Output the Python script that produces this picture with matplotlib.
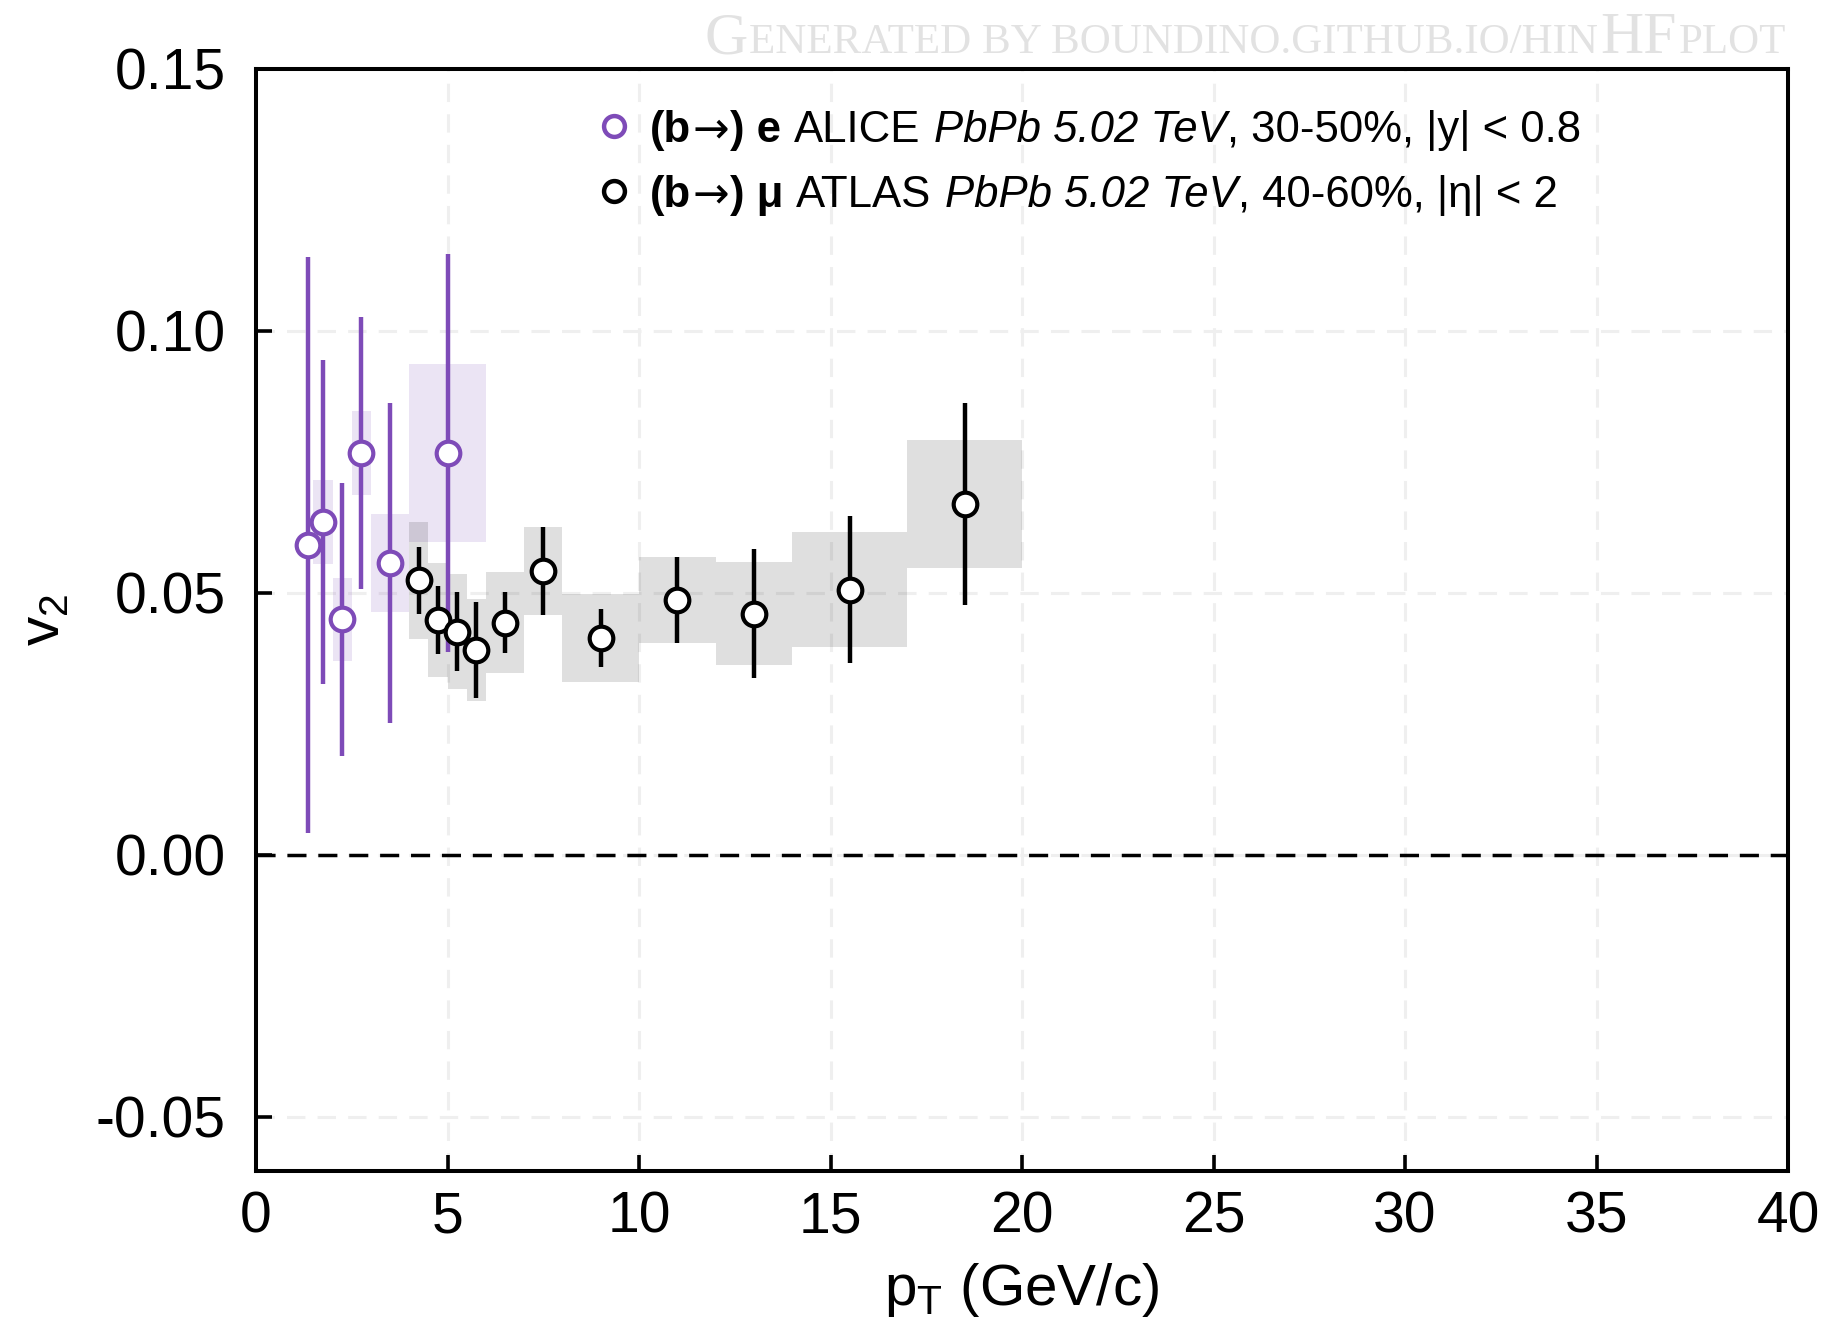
import matplotlib
matplotlib.use("Agg")
import matplotlib.pyplot as plt
from matplotlib.patches import Rectangle

plt.rcParams['font.family'] = ['Liberation Sans', 'DejaVu Sans']
plt.rcParams['mathtext.fontset'] = 'custom'
plt.rcParams['mathtext.rm'] = 'Liberation Sans'
plt.rcParams['mathtext.it'] = 'Liberation Sans:italic'
plt.rcParams['mathtext.bf'] = 'Liberation Sans:bold'
plt.rcParams['axes.unicode_minus'] = False

# ---------------- data ----------------
# ALICE (b->) e, PbPb 5.02 TeV, 30-50%
alice_pt = [1.37, 1.74, 2.24, 2.75, 3.49, 5.00]
alice_v2 = [0.0592, 0.0635, 0.0449, 0.0767, 0.0557, 0.0767]
alice_stat = [0.0550, 0.0310, 0.0260, 0.0260, 0.0306, 0.0380]
alice_syst = [0.0020, 0.0080, 0.0080, 0.0080, 0.0093, 0.0170]
alice_lo = [1.30, 1.50, 2.00, 2.50, 3.00, 4.00]
alice_hi = [1.45, 2.00, 2.50, 3.00, 4.00, 6.00]

# ATLAS (b->) mu, PbPb 5.02 TeV, 40-60%
atlas_pt = [4.25, 4.75, 5.25, 5.75, 6.5, 7.5, 9.0, 11.0, 13.0, 15.5, 18.5]
atlas_v2 = [0.0524, 0.0448, 0.0426, 0.0391, 0.0443, 0.0541, 0.0414, 0.0486, 0.0460, 0.0506, 0.0670]
atlas_stat = [0.0064, 0.0064, 0.0075, 0.0091, 0.0058, 0.0084, 0.0055, 0.0082, 0.0123, 0.0140, 0.0193]
atlas_syst = [0.0112, 0.0109, 0.0109, 0.0098, 0.0096, 0.0084, 0.0084, 0.0082, 0.0098, 0.0110, 0.0122]
atlas_lo = [4.0, 4.5, 5.0, 5.5, 6.0, 7.0, 8.0, 10.0, 12.0, 14.0, 17.0]
atlas_hi = [4.5, 5.0, 5.5, 6.0, 7.0, 8.0, 10.0, 12.0, 14.0, 17.0, 20.0]

xticks = [0, 5, 10, 15, 20, 25, 30, 35, 40]
xtick_labels = ['0', '5', '10', '15', '20', '25', '30', '35', '40']
yticks = [-0.05, 0.00, 0.05, 0.10, 0.15]
ytick_labels = ['-0.05', '0.00', '0.05', '0.10', '0.15']

# legend text pieces: (text, weight, style, font)
SANS = ['Liberation Sans', 'DejaVu Sans']
ARROW = ['DejaVu Sans']
legend_alice = [("(b", 'bold', 'normal', SANS), ("→", 'normal', 'normal', ARROW),
                (") e", 'bold', 'normal', SANS), (" ALICE ", 'normal', 'normal', SANS),
                ("PbPb 5.02 TeV", 'normal', 'italic', SANS),
                (", 30-50%, |y| < 0.8", 'normal', 'normal', SANS)]
legend_atlas = [("(b", 'bold', 'normal', SANS), ("→", 'normal', 'normal', ARROW),
                (") μ", 'bold', 'normal', SANS), (" ATLAS ", 'normal', 'normal', SANS),
                ("PbPb 5.02 TeV", 'normal', 'italic', SANS),
                (", 40-60%, |η| < 2", 'normal', 'normal', SANS)]
watermark = [("G", 'big'), ("ENERATED BY BOUNDINO.GITHUB.IO/HIN", 'small'),
             ("HF", 'big'), ("PLOT", 'small')]

PURPLE = '#7e4bb8'
BLACK = '#000000'

# ---------------- figure ----------------
W, H = 1842, 1318
fig = plt.figure(figsize=(W / 100, H / 100), dpi=100)
ax = fig.add_axes([256 / W, 1 - 1171 / H, (1788 - 256) / W, (1171 - 69) / H])
ax.set_xlim(0, 40)
ax.set_ylim(-0.0604, 0.15)
renderer = fig.canvas.get_renderer()

# grid
for x in xticks[1:-1]:
    ax.axvline(x, color='#efefef', lw=2.2, dashes=(6, 4), zorder=0)
for y in yticks[:-1]:
    ax.axhline(y, color='#efefef', lw=2.2, dashes=(6, 4), zorder=0)

# systematic boxes
for lo, hi, v, s in zip(alice_lo, alice_hi, alice_v2, alice_syst):
    ax.add_patch(Rectangle((lo, v - s), hi - lo, 2 * s, facecolor=PURPLE,
                           alpha=0.15, lw=0, zorder=1))
for lo, hi, v, s in zip(atlas_lo, atlas_hi, atlas_v2, atlas_syst):
    ax.add_patch(Rectangle((lo, v - s), hi - lo, 2 * s, facecolor='black',
                           alpha=0.125, lw=0, zorder=1))

# zero line
ax.axhline(0, color='black', lw=2.5, dashes=(5.5, 3.4), zorder=2)

# stat error bars and markers
MS, MEW, ELW = 17, 3.0, 3.2
ax.errorbar(alice_pt, alice_v2, yerr=alice_stat, fmt='none', ecolor=PURPLE,
            elinewidth=ELW, capsize=0, zorder=3)
ax.plot(alice_pt, alice_v2, ls='none', marker='o', ms=MS, mfc='white',
        mec=PURPLE, mew=MEW, zorder=4)
ax.errorbar(atlas_pt, atlas_v2, yerr=atlas_stat, fmt='none', ecolor=BLACK,
            elinewidth=ELW, capsize=0, zorder=5)
ax.plot(atlas_pt, atlas_v2, ls='none', marker='o', ms=MS, mfc='white',
        mec=BLACK, mew=MEW, zorder=6)

# axes styling
for sp in ax.spines.values():
    sp.set_linewidth(2.9)
ax.set_xticks(xticks)
ax.set_xticklabels(xtick_labels)
ax.set_yticks(yticks)
ax.set_yticklabels(ytick_labels)
ax.tick_params(axis='both', direction='in', length=11.5, width=2.6, labelsize=41)
ax.tick_params(axis='y', pad=22)
ax.tick_params(axis='x', pad=14)

ax.set_xlabel(r"p$_\mathregular{T}$ (GeV/c)", fontsize=42)
ax.xaxis.set_label_coords(0.5, -0.082)
ax.set_ylabel(r"v$_\mathregular{2}$", fontsize=42)
ax.yaxis.set_label_coords(-0.121, 0.5)


def text_width(s, **kw):
    t = fig.text(0, 0, s, **kw)
    w = t.get_window_extent(renderer).width
    t.remove()
    return w


def space_width(**kw):
    return text_width("x x", **kw) - text_width("xx", **kw)


def chain_text(pieces, x0_px, base_px, fontsize, color='black'):
    """Place pieces of differently-styled text one after another on a baseline."""
    x = x0_px
    for s, weight, style, family in pieces:
        kw = dict(fontsize=fontsize, family=family, weight=weight, style=style)
        sw = space_width(**kw)
        lead = len(s) - len(s.lstrip(' '))
        trail = len(s) - len(s.rstrip(' '))
        core = s.strip(' ')
        x += lead * sw
        t = fig.text(x / W, 1 - base_px / H, core, color=color, ha='left',
                     va='baseline', **kw)
        x += t.get_window_extent(renderer).width + trail * sw + 1
    return x


# legend (manual)
leg_fs = 31.5
for col, my_px, pieces in zip([PURPLE, BLACK], [126, 191], [legend_alice, legend_atlas]):
    ax.plot([(614 - 256) / 1532], [(1171 - my_px) / 1102], transform=ax.transAxes,
            ls='none', marker='o', ms=15, mfc='white', mec=col, mew=3.2,
            clip_on=False, zorder=10)
    chain_text(pieces, 650, my_px + 16, leg_fs)

# watermark in small caps (right aligned)
sizes = {'big': 43, 'small': 31}
wm_texts = []
for s, kind in watermark:
    t = fig.text(0, 1 - 53 / H, s, fontsize=sizes[kind], family='Liberation Serif',
                 color='#e2e2e2', ha='left', va='baseline')
    wm_texts.append(t)
widths = [t.get_window_extent(renderer).width for t in wm_texts]
x = 1786 - sum(widths) - 2 * (len(widths) - 1)
for t, w in zip(wm_texts, widths):
    t.set_x(x / W)
    x += w + 2

fig.savefig('out.png', dpi=100)
